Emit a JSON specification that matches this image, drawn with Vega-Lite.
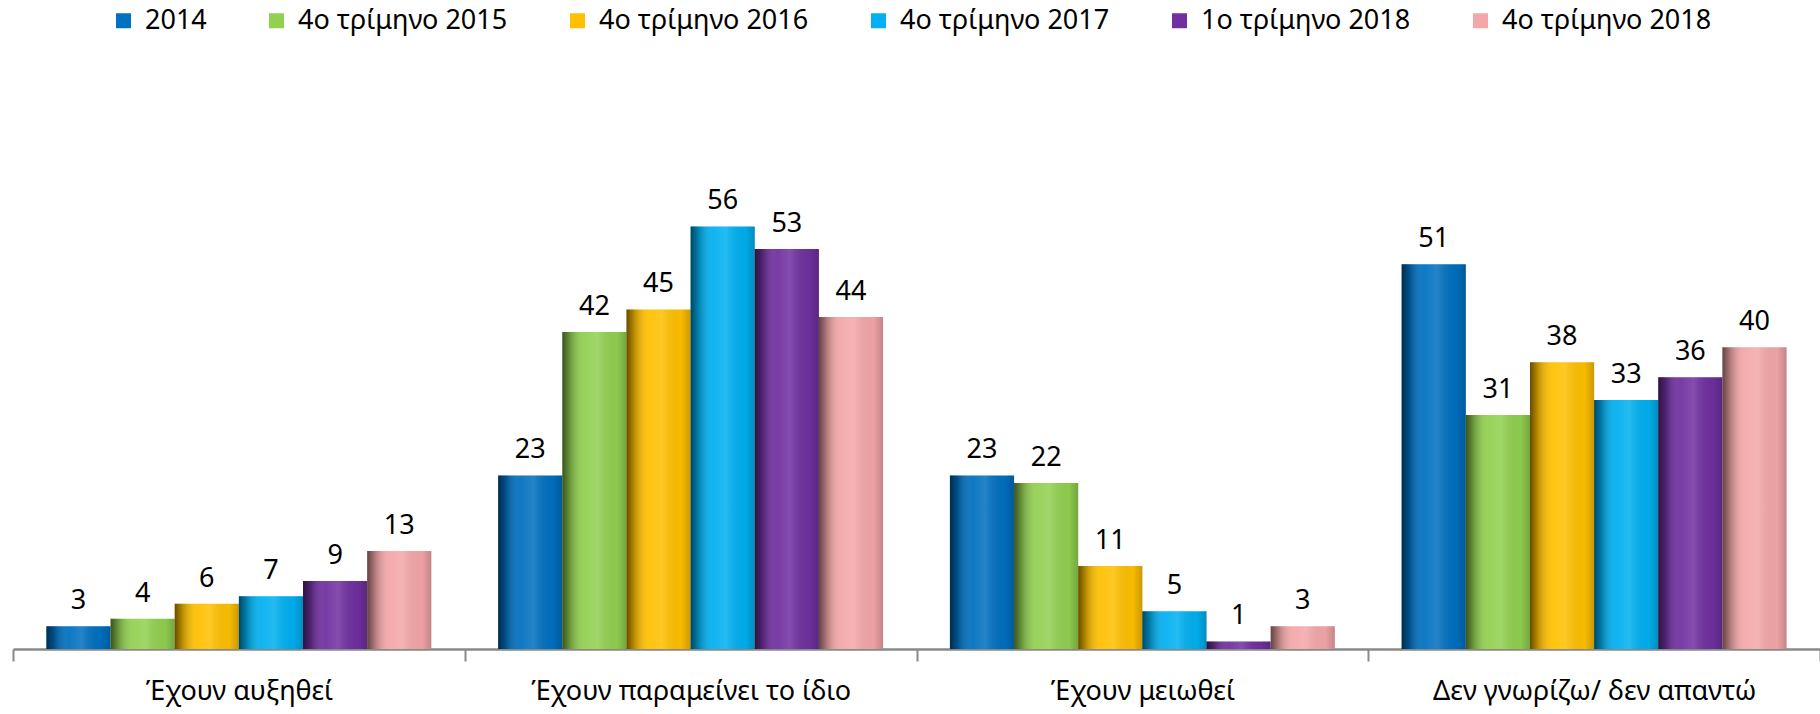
{
  "$schema": "https://vega.github.io/schema/vega-lite/v6.json",
  "width": 1807,
  "height": 649,
  "autosize": {"type": "none"},
  "padding": {"left": 13, "top": 0, "right": 0, "bottom": 65},
  "background": "white",
  "config": {"view": {"stroke": null}, "font": "Noto Sans"},
  "data": {
    "values": [
      {"cat": "Έχουν αυξηθεί", "series": "2014", "value": 3},
      {"cat": "Έχουν αυξηθεί", "series": "4ο τρίμηνο 2015", "value": 4},
      {"cat": "Έχουν αυξηθεί", "series": "4ο τρίμηνο 2016", "value": 6},
      {"cat": "Έχουν αυξηθεί", "series": "4ο τρίμηνο 2017", "value": 7},
      {"cat": "Έχουν αυξηθεί", "series": "1ο τρίμηνο 2018", "value": 9},
      {"cat": "Έχουν αυξηθεί", "series": "4ο τρίμηνο 2018", "value": 13},
      {"cat": "Έχουν παραμείνει το ίδιο", "series": "2014", "value": 23},
      {"cat": "Έχουν παραμείνει το ίδιο", "series": "4ο τρίμηνο 2015", "value": 42},
      {"cat": "Έχουν παραμείνει το ίδιο", "series": "4ο τρίμηνο 2016", "value": 45},
      {"cat": "Έχουν παραμείνει το ίδιο", "series": "4ο τρίμηνο 2017", "value": 56},
      {"cat": "Έχουν παραμείνει το ίδιο", "series": "1ο τρίμηνο 2018", "value": 53},
      {"cat": "Έχουν παραμείνει το ίδιο", "series": "4ο τρίμηνο 2018", "value": 44},
      {"cat": "Έχουν μειωθεί", "series": "2014", "value": 23},
      {"cat": "Έχουν μειωθεί", "series": "4ο τρίμηνο 2015", "value": 22},
      {"cat": "Έχουν μειωθεί", "series": "4ο τρίμηνο 2016", "value": 11},
      {"cat": "Έχουν μειωθεί", "series": "4ο τρίμηνο 2017", "value": 5},
      {"cat": "Έχουν μειωθεί", "series": "1ο τρίμηνο 2018", "value": 1},
      {"cat": "Έχουν μειωθεί", "series": "4ο τρίμηνο 2018", "value": 3},
      {"cat": "Δεν γνωρίζω/ δεν απαντώ", "series": "2014", "value": 51},
      {"cat": "Δεν γνωρίζω/ δεν απαντώ", "series": "4ο τρίμηνο 2015", "value": 31},
      {"cat": "Δεν γνωρίζω/ δεν απαντώ", "series": "4ο τρίμηνο 2016", "value": 38},
      {"cat": "Δεν γνωρίζω/ δεν απαντώ", "series": "4ο τρίμηνο 2017", "value": 33},
      {"cat": "Δεν γνωρίζω/ δεν απαντώ", "series": "1ο τρίμηνο 2018", "value": 36},
      {"cat": "Δεν γνωρίζω/ δεν απαντώ", "series": "4ο τρίμηνο 2018", "value": 40}
    ]
  },
  "encoding": {
    "x": {
      "field": "cat",
      "type": "nominal",
      "sort": ["Έχουν αυξηθεί", "Έχουν παραμείνει το ίδιο", "Έχουν μειωθεί", "Δεν γνωρίζω/ δεν απαντώ"],
      "scale": {"paddingInner": 0, "paddingOuter": 0},
      "title": null,
      "axis": {
        "domainColor": "#898989",
        "domainWidth": 2.5,
        "tickColor": "#898989",
        "tickWidth": 2,
        "tickSize": 12,
        "tickBand": "extent",
        "labelFontSize": 27,
        "labelFont": "Noto Sans",
        "labelColor": "#000000",
        "labelPadding": 17,
        "labelAngle": 0,
        "labelLimit": 0,
        "grid": false
      }
    },
    "xOffset": {
      "field": "series",
      "type": "nominal",
      "sort": ["2014", "4ο τρίμηνο 2015", "4ο τρίμηνο 2016", "4ο τρίμηνο 2017", "1ο τρίμηνο 2018", "4ο τρίμηνο 2018"],
      "scale": {"paddingInner": 0, "paddingOuter": 0.521}
    },
    "y": {
      "field": "value",
      "type": "quantitative",
      "scale": {"domain": [0, 86], "nice": false, "zero": true},
      "axis": null
    }
  },
  "layer": [
    {
      "mark": {"type": "bar"},
      "encoding": {
        "color": {
          "field": "series",
          "type": "nominal",
          "sort": ["2014", "4ο τρίμηνο 2015", "4ο τρίμηνο 2016", "4ο τρίμηνο 2017", "1ο τρίμηνο 2018", "4ο τρίμηνο 2018"],
          "scale": {
            "domain": ["2014", "4ο τρίμηνο 2015", "4ο τρίμηνο 2016", "4ο τρίμηνο 2017", "1ο τρίμηνο 2018", "4ο τρίμηνο 2018"],
            "range": ["#0070C0", "#92D050", "#FFC000", "#00B0F0", "#7030A0", "#F4A7A9"]
          },
          "legend": {
            "orient": "none",
            "legendX": 97,
            "legendY": 7,
            "direction": "horizontal",
            "title": null,
            "symbolType": "square",
            "symbolSize": 225,
            "symbolStrokeWidth": 0,
            "symbolOpacity": 1,
            "labelFontSize": 27,
            "labelFont": "Noto Sans",
            "labelColor": "#000000",
            "labelLimit": 0,
            "labelOffset": 8,
            "columnPadding": 56,
            "padding": 0
          }
        }
      }
    },
    {
      "mark": {
        "type": "bar",
        "fill": {
          "gradient": "linear",
          "x1": 0, "y1": 0, "x2": 1, "y2": 0,
          "stops": [
            {"offset": 0, "color": "rgba(0,0,0,0.6)"},
            {"offset": 0.12, "color": "rgba(0,0,0,0.28)"},
            {"offset": 0.35, "color": "rgba(255,255,255,0.06)"},
            {"offset": 0.55, "color": "rgba(255,255,255,0.14)"},
            {"offset": 0.85, "color": "rgba(0,0,0,0.03)"},
            {"offset": 1, "color": "rgba(0,0,0,0.2)"}
          ]
        }
      },
      "encoding": {}
    },
    {
      "mark": {"type": "text", "baseline": "alphabetic", "dy": -17, "fontSize": 27, "font": "Noto Sans", "color": "#000000"},
      "encoding": {"text": {"field": "value", "type": "quantitative"}}
    }
  ]
}
